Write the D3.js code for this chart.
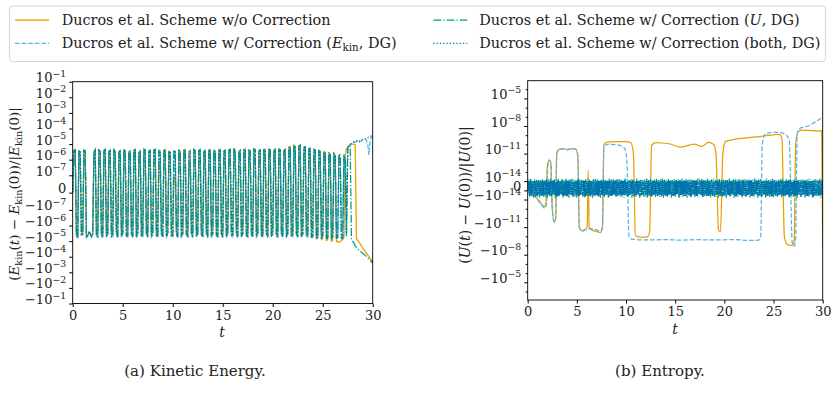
<!DOCTYPE html>
<html>
<head>
<meta charset="utf-8">
<script src="https://cdn.jsdelivr.net/npm/d3@7"></script>
<style>
  body { margin: 0; background: #fff; }
  svg { font-family: "DejaVu Serif", "Liberation Serif", serif; }
</style>
</head>
<body>
<script>
// ---------- data ----------
const tMax = 30;
const tTicks = [0, 5, 10, 15, 20, 25, 30];

// kinetic energy error, units of 1e-6, sampled every 0.125 in t
const kinUnit = 1e-6, kinStep = 0.125;
const kinOrange = [
  0,3.8,4.2,-4, -5,3.5,3,-4.5, -3,4,3.6,-5, -4,-3,-3.5,-5, -3.5,3.2,4.4,-4, -5,4.1,3.3,-3.5, -4,3.7,4.5,-5, -3,3.4,3.9,-4.5, -5,4.3,3.5,-3, -4,3.1,3.8,-5,
  -3.5,4.4,3.9,-4, -5,3.3,3.6,-3, -4,4,4.6,-5.5, -3,3.2,3.5,-4, -5,4.5,4,-3.5, -4,3.6,3.9,-5, -3,4.2,4.4,-4, -5,0.6,0.4,-3, -4,3.8,4.5,-5, -3.5,3.5,3.1,-4,
  -5,0.1,0.08,-3, -4,3.9,3.4,-5, -3,4.1,4.6,-4, -5,3.6,4,-3.5, -4,4.4,3.7,-5, -3,3.9,4.3,-4, -5,3.4,3.8,-3, -4,4.5,4.1,-5, -3.5,3.8,3.5,-4, -5,4.6,4.2,-3,
  -4,3.5,3.9,-5.5, -3,4.2,4.5,-4, -5,4.7,4.1,-3.5, -4,3.6,4,-5, -3,4.4,4.8,-4, -5,4,3.6,-3, -4,4.8,4.3,-5, -3.5,3.7,4.1,-4, -5,4.3,4.6,-3, -4,4.9,4.4,-5,
  -3,4,4.5,-4, -5,4.6,4.2,-3.5, -4,3.8,4.4,-5, -3,6,6.8,-4, -5,8,7.2,-3, -4,7.5,8.5,-5, -3.5,6,6.5,-4, -5,5,5.5,-6, -4,4.5,4.1,-7, -6,3.8,3.4,-8,
  -7,3.2,2.8,-9, -8,2.5,2.2,-10, -9,2,1.6,-11, -10,-12,-11,-9, -8,-6,2,5, 6,8,9,10, 10,10,9,-7, -9,-12,-15,-20, -28,-36,-46,-58, -75,-100,-130,-165,
  -220
];
const kinSky = [
  0,3.2,3.6,-5, -6,3,2.6,-4, -4,3.4,3.1,-6, -5,-2.5,-3,-5.5, -4,2.8,3.8,-4.5, -5.5,3.5,2.9,-4.5, -6,3.2,3.9,-5, -4,3,3.4,-5.5, -5,3.7,3,-4, -6,2.7,3.3,-5,
  -4,3.8,3.4,-5.5, -5.5,2.9,3.1,-4, -6,3.5,4,-6, -4,2.8,3,-5, -5,3.9,3.5,-4, -6,3.1,3.4,-5.5, -4,3.6,3.8,-5, -5.5,3.3,3,-4, -6,3.3,3.9,-5.5, -4,3,2.7,-5,
  -5,3.4,3.2,-4, -6,3.4,2.9,-5.5, -4,3.5,4,-5, -5.5,3.1,3.5,-4, -6,3.8,3.2,-5.5, -4,3.4,3.7,-5, -5,2.9,3.3,-4, -6,3.9,3.5,-5.5, -4,3.3,3,-5, -5.5,4,3.6,-4,
  -6,3,3.4,-6, -4,3.6,3.9,-5, -5,4.1,3.5,-4, -6,3.1,3.5,-5.5, -4,3.8,4.2,-5, -5.5,3.5,3.1,-4, -6,4.2,3.7,-5.5, -4,3.2,3.5,-5, -5,3.7,4,-4, -6,4.3,3.8,-5.5,
  -4,3.4,3.9,-5, -5.5,4,3.6,-4, -6,3.3,3.8,-5.5, -4,5.2,5.8,-5, -5,6.8,6.2,-4, -6,6.5,7.2,-5.5, -4,5.2,5.6,-5, -5.5,4.3,4.7,-6, -6,3.8,3.5,-7, -6.5,3.2,2.9,-7.5,
  -5,2.6,2.3,-7, -7,2,1.8,-6, -6,2.2,1.6,-7, -6.5,1.5,1.3,-5.5, -7,1.2,1,-4, 5,8,10,11, 12,14,13,14, 15,13,15,16, 17,19,21,18, 10,2,20,28,
  32
];
const kinGreen = [
  0,4,4.4,-4.5, -5.5,3.7,3.3,-3.5, -3.5,4.2,3.8,-5, -4.5,-2.8,-3.2,-5, -3,3.4,4.5,-4, -4.5,4.3,3.5,-4, -5,3.9,4.6,-4.5, -3.5,3.6,4.1,-4, -4.5,4.5,3.7,-3.5, -5,3.3,4,-4.5,
  -3,4.6,4.1,-4.5, -4.5,3.5,3.8,-3.5, -5,4.2,4.8,-5, -3.5,3.4,3.7,-4.5, -4.5,4.7,4.2,-3, -5,3.8,4.1,-4.5, -3.5,4.4,4.6,-4.5, -4.5,3.9,3.6,-3.5, -5,4,4.7,-4.5, -3,3.7,3.3,-4.5,
  -4.5,4.1,3.9,-3.5, -5,4.1,3.6,-4.5, -3.5,4.3,4.8,-4, -4.5,0.7,0.7,-3, -5,4.6,3.9,-4.5, -3.5,4.1,4.5,-4.5, -4.5,3.6,4,-3.5, -5,4.7,4.3,-4.5, -3,4,3.7,-4.5, -4.5,4.8,4.4,-3.5,
  -5,3.7,4.1,-5, -3.5,4.4,4.7,-4.5, -4.5,4.9,4.3,-3, -5,3.8,4.2,-4.5, -3.5,4.6,5,-4.5, -4.5,4.2,3.8,-3.5, -5,5,4.5,-4.5, -3,3.9,4.3,-4.5, -4.5,4.5,4.8,-3.5, -5,5.1,4.6,-4.5,
  -3.5,4.2,4.7,-4.5, -4.5,4.8,4.4,-3, -5,4,4.6,-4.5, -3.5,6.3,7,-4.5, -4.5,8.3,7.5,-3.5, -5,7.8,8.8,-4.5, -3.5,6.3,6.8,-4.5, -4.5,5.2,5.7,-5.5, -5,4.7,4.3,-6, -5.5,4,3.6,-6.5,
  -4.5,3.4,3,-6.5, -6,2.8,2.5,-7, -5.5,2.6,2.2,-6.5, -6,2.3,2,-7, -6.5,2,1.8,-5, 6,9,8,-7, -10,-14,-20,-25, -30,-37,-45,-52, -60,-70,-82,-95, -115,-140,-170,-210,
  -260
];
const kinBlue = [
  0,3.5,3.9,-4, -5,3.2,2.9,-4.5, -3.5,3.7,3.3,-5.5, -4.5,-3,-3.4,-5, -3.5,3,4.1,-4, -5,3.8,3.1,-4, -5.5,3.5,4.2,-4.5, -3.5,3.3,3.7,-5, -4.5,4,3.3,-3.5, -5.5,2.9,3.5,-4.5,
  -3.5,4.1,3.6,-5, -5,3.1,3.4,-3.5, -5.5,3.8,4.3,-5.5, -3.5,3,3.3,-4.5, -4.5,4.2,3.8,-3.5, -5.5,3.4,3.7,-5, -3.5,3.9,4.1,-4.5, -5,3.5,3.2,-3.5, -5.5,3.6,4.3,-5, -3.5,3.3,3,-4.5,
  -4.5,3.7,3.5,-3.5, -5.5,3.7,3.2,-5, -3.5,3.8,4.3,-4.5, -5,3.4,3.8,-3.5, -5.5,4.1,3.5,-5, -3.5,3.7,4,-4.5, -4.5,3.2,3.6,-3.5, -5.5,4.2,3.8,-5, -3.5,3.6,3.3,-4.5, -5,4.3,3.9,-3.5,
  -5.5,3.3,3.7,-5.5, -3.5,3.9,4.2,-4.5, -4.5,4.4,3.8,-3.5, -5.5,3.4,3.8,-5, -3.5,4.1,4.5,-4.5, -5,3.8,3.4,-3.5, -5.5,4.5,4,-5, -3.5,3.5,3.8,-4.5, -4.5,4,4.3,-3.5, -5.5,4.6,4.1,-5,
  -3.5,3.7,4.2,-4.5, -5,4.3,3.9,-3.5, -5.5,3.6,4.1,-5, -3.5,5.6,6.3,-4.5, -4.5,7.4,6.7,-3.5, -5.5,7,7.9,-5, -3.5,5.6,6.1,-4.5, -5,4.7,5.1,-5.5, -5.5,4.2,3.8,-6.5, -6,3.5,3.2,-7,
  -4.5,2.9,2.6,-7, -6.5,2.4,2.1,-5.5, -5.5,2.5,1.9,-6.5, -6,1.8,1.6,-5, -6.5,1.5,1.3,-3.5, 4,7,9,11, 12,14,15,16, 18,15,17,19, 20,22,21,24, 26,28,30,34,
  38
];
const kinTicks = [1e-1, 1e-2, 1e-3, 1e-4, 1e-5, 1e-6, 1e-7, 0, -1e-7, -1e-6, -1e-5, -1e-4, -1e-3, -1e-2, -1e-1];

// entropy error: smooth runs (t, value)
const entOrangeT = [0, 0.6, 1.2, 1.5, 1.7, 1.85, 2.0, 2.2, 2.35, 2.5, 2.7, 2.85, 2.95, 3.2, 3.6, 4.0, 4.5, 4.9, 5.1, 5.25,
  5.5, 5.8, 6.05, 6.15, 6.25, 6.5, 7.0, 7.4, 7.6, 7.75, 8.1, 9.0, 10.0, 10.5, 10.75, 10.95, 11.5, 12.2, 12.4, 12.6,
  13.0, 14.5, 15.5, 16.5, 16.9, 17.7, 18.4, 18.9, 19.15, 19.4, 19.6, 19.85, 20.1, 21.0, 23.0, 25.0, 25.6, 25.85, 26.1, 26.4,
  26.9, 27.1, 27.25, 27.5, 28.0, 28.5, 29.5, 29.9, 30.0];
const entOrangeV = [0, -5e-15, -1.5e-14, -4e-14, -6e-14, -2e-14, 5e-13, 1.9e-12, 1e-12, -1e-13, -2.8e-12, -1e-12, 1e-11, 3e-11, 3.5e-11, 2.8e-11, 3.5e-11, 3e-11, 5e-12, -1e-11,
  -2.5e-11, -2e-11, -1e-11, 1.5e-13, -1e-11, -2e-11, -3e-11, -4e-11, -1e-11, 1e-10, 1.8e-10, 2e-10, 2e-10, 1.5e-10, 1e-11, -8e-11, -1.3e-10, -1.1e-10, -3e-11, 8e-11,
  1.6e-10, 1.1e-10, 5e-11, 9e-11, 1.1e-10, 6e-11, 1.7e-10, 1e-10, 1e-11, -2e-11, -3e-11, 1e-11, 2e-10, 3.5e-10, 6e-10, 1.1e-9, 1.2e-9, 5e-10, -1e-10, -8e-10,
  -1e-9, -3e-10, 1e-10, 2.5e-9, 3.5e-9, 3.3e-9, 2.8e-9, 3.2e-9, -1.5e-9];
const entSkyT = [0, 0.6, 1.2, 1.5, 1.75, 1.9, 2.05, 2.2, 2.35, 2.5, 2.7, 2.85, 2.95, 3.2, 3.6, 4.0, 4.5, 4.9, 5.1, 5.25,
  5.5, 6.0, 6.5, 7.0, 7.4, 7.6, 7.75, 8.1, 9.0, 9.6, 9.9, 10.1, 10.3, 10.6, 12.0, 14.0, 15.5, 17.0, 19.0, 21.0,
  22.5, 23.5, 23.7, 23.85, 24.2, 25.0, 25.6, 26.2, 26.6, 26.9, 27.1, 27.25, 27.4, 27.6, 28.5, 29.3, 30.0];
const entSkyV = [0, -5e-15, -2e-14, -5e-14, -9e-14, -3e-14, 5e-13, 1.9e-12, 1e-12, -1e-13, -3e-12, -1e-12, 1e-11, 2.8e-11, 3.2e-11, 2.5e-11, 3.2e-11, 2.8e-11, 5e-12, -1e-11,
  -2.5e-11, -1.8e-11, -1.5e-11, -2e-11, -3e-11, -1e-11, 5e-11, 1e-10, 9e-11, 6e-11, 3e-11, 1e-12, -1e-10, -2e-10, -2.5e-10, -2.3e-10, -2.6e-10, -2.3e-10, -2.5e-10, -2.3e-10,
  -2.8e-10, -2.6e-10, -1e-10, 1e-10, 1.5e-9, 2e-9, 2e-9, 1.2e-9, 3e-10, -5e-10, -1.2e-9, -2e-10, 1e-9, 5e-9, 1e-8, 3e-8, 1e-7];

// entropy error: noisy runs, units of 1e-15, sampled every 0.1 in t
const entUnit = 1e-15, entStep = 0.1;
const entGreen = [
  0, 15, -7, 18, -6, 12, -8, 19, -5, 14, -7, 16, -8, 13, -6, 18, -7, 12, -5, 17,
  -8, 15, -6, 19, -7, 13, -5, 16, -8, 14, -6, 18, -7, 12, -5, 17, -8, 15, -6, 19,
  -7, 13, -8, 16, -5, 18, -6, 14, -7, 12, -8, 19, -5, 15, -6, 17, -7, 13, -8, 16,
  -6, 18, -5, 14, -7, 12, -8, 17, -6, 19, -5, 15, -7, 13, -8, 16, -6, 18, -7, 14,
  -5, 12, -8, 19, -6, 15, -7, 17, -5, 13, -8, 16, -6, 18, -7, 14, -5, 12, -8, 19,
  -6, 16, -7, 13, -5, 18, -8, 15, -6, 12, -7, 19, -5, 14, -8, 17, -6, 13, -7, 16,
  -5, 19, -8, 14, -6, 17, -7, 12, -5, 15, -8, 18, -6, 13, -7, 16, -5, 19, -8, 14,
  -6, 12, -7, 17, -5, 15, -8, 13, -6, 18, -7, 14, -5, 16, -8, 12, -6, 19, -7, 15,
  -5, 17, -8, 13, -6, 16, -7, 18, -5, 14, -8, 12, -6, 19, -7, 15, -5, 17, -8, 13,
  -6, 14, -7, 18, -5, 12, -8, 16, -6, 19, -7, 13, -5, 15, -8, 17, -6, 14, -7, 18,
  -5, 13, -8, 15, -6, 19, -7, 12, -5, 16, -8, 18, -6, 14, -7, 17, -5, 13, -8, 15,
  -6, 18, -7, 14, -5, 17, -8, 12, -6, 15, -7, 19, -5, 13, -8, 16, -6, 18, -7, 12,
  -5, 16, -8, 19, -6, 13, -7, 15, -5, 18, -8, 14, -6, 12, -7, 17, -5, 16, -8, 19,
  -6, 12, -7, 16, -5, 14, -8, 18, -6, 13, -7, 15, -5, 19, -8, 12, -6, 17, -7, 14,
  -5, 18, -8, 13, -6, 16, -7, 19, -5, 12, -8, 15, -6, 17, -7, 14, -5, 18, -8, 13,
  -6
];
const entBlue = [
  0, 10, -5, 12, -6, 9, -4, 11, -6.5, 10, -5, 12, -4, 9, -6, 11, -5, 10, -6.5, 12,
  -4, 9, -5, 11, -6, 10, -4, 12, -5, 9, -6.5, 11, -5, 10, -4, 12, -6, 9, -5, 11,
  -6, 10, -4, 12, -5, 9, -6.5, 11, -4, 10, -5, 12, -6, 9, -4, 11, -5, 10, -6.5, 12,
  -4, 9, -6, 11, -5, 10, -4, 12, -6, 9, -5, 11, -6.5, 10, -4, 12, -5, 9, -6, 11,
  -4, 10, -5, 12, -6.5, 9, -5, 11, -4, 10, -6, 12, -5, 9, -4, 11, -6.5, 10, -5, 12,
  -4, 9, -6, 11, -5, 10, -4, 12, -6.5, 9, -5, 11, -4, 10, -6, 12, -5, 9, -4, 11,
  -6.5, 10, -5, 12, -4, 9, -6, 11, -5, 10, -4, 12, -6, 9, -5, 11, -6.5, 10, -4, 12,
  -5, 9, -6, 11, -4, 10, -5, 12, -6, 9, -5, 11, -4, 10, -6.5, 12, -5, 9, -4, 11,
  -6, 10, -4, 12, -5, 9, -6.5, 11, -4, 10, -5, 12, -6, 9, -4, 11, -5, 10, -6.5, 12,
  -4, 9, -5, 11, -6, 10, -4, 12, -5, 9, -6.5, 11, -5, 10, -4, 12, -6, 9, -5, 11,
  -6, 10, -4, 12, -5, 9, -6, 11, -4, 10, -5, 12, -6.5, 9, -4, 11, -5, 10, -6, 12,
  -4, 9, -6.5, 11, -5, 10, -4, 12, -6, 9, -5, 11, -4, 10, -6, 12, -5, 9, -6.5, 11,
  -4, 10, -5, 12, -6, 9, -4, 11, -6.5, 10, -5, 12, -4, 9, -6, 11, -5, 10, -4, 12,
  -6, 9, -5, 11, -4, 10, -6.5, 12, -5, 9, -4, 11, -6, 10, -5, 12, -4, 9, -6.5, 11,
  -5, 10, -4, 12, -6, 9, -5, 11, -4, 10, -6.5, 12, -5, 9, -4, 11, -6, 10, -5, 12,
  -4
];
const entMajor = [1e-5, 1e-8, 1e-11, 1e-14, 0, -1e-14, -1e-11, -1e-8, -1e-5];
const entMinor = [1e-4, 1e-6, 1e-7, 1e-9, 1e-10, 1e-12, 1e-13, -1e-13, -1e-12, -1e-10, -1e-9, -1e-7, -1e-6, -1e-4];
const entLim = 8.5e-4;

const legendLabels = [
  [{ s: "Ducros et al. Scheme w/o Correction" }],
  [{ s: "Ducros et al. Scheme w/ Correction (" }, { s: "E", i: true }, { s: "kin", sub: true }, { s: ", DG)" }],
  [{ s: "Ducros et al. Scheme w/ Correction (" }, { s: "U", i: true }, { s: ", DG)" }],
  [{ s: "Ducros et al. Scheme w/ Correction (both, DG)" }]
];

// ---------- styles ----------
const styles = [
  { color: "#E69F00", dash: null },
  { color: "#56B4E9", dash: "4.6,2" },
  { color: "#009E73", dash: "8,2,1.25,2" },
  { color: "#0072B2", dash: "1.25,2.05" }
];

// matplotlib-style symlog transform (base 10)
function symlogT(linthresh, linscale) {
  const adj = linscale / (1 - 1 / 10);
  return v => {
    const a = Math.abs(v);
    if (a <= linthresh) return v / linthresh * adj;
    return Math.sign(v) * (adj + Math.log10(a / linthresh));
  };
}

// text with italic / sub / superscript pieces
function rich(text, parts, fs) {
  let shift = 0;
  parts.forEach(p => {
    let target = 0, size = fs;
    if (p.sup) { target = -0.42 * fs; size = fs * 0.72; }
    if (p.sub) { target = 0.22 * fs; size = fs * 0.72; }
    const ts = text.append("tspan").text(p.s)
      .attr("dy", target - shift)
      .attr("font-size", size);
    if (p.i) ts.attr("font-style", "italic");
    shift = target;
  });
}

function powParts(v) {
  if (v === 0) return [{ s: "0" }];
  const e = Math.round(Math.log10(Math.abs(v)));
  return [{ s: (v < 0 ? "\u221210" : "10") }, { s: "\u2212" + (-e), sup: true }];
}

const W = 836, H = 406;
const FONT = "DejaVu Serif";
const svg = d3.select("body").append("svg").attr("width", W).attr("height", H);

function panel(box, T, yDomain, majors, minors, runs, id) {
  const x = d3.scaleLinear().domain([0, tMax]).range([box.x0, box.x1]);
  const y = d3.scaleLinear().domain(yDomain.map(T)).range([box.y1, box.y0]);
  const g = svg.append("g");

  g.append("clipPath").attr("id", id)
    .append("rect").attr("x", box.x0).attr("y", box.y0)
    .attr("width", box.x1 - box.x0).attr("height", box.y1 - box.y0);

  const plot = g.append("g").attr("clip-path", `url(#${id})`);
  runs.forEach(r => {
    const line = d3.line().x(d => x(d[0])).y(d => y(T(d[1])))
      .curve(r.curve || d3.curveLinear);
    plot.append("path")
      .attr("d", line(r.pts))
      .attr("fill", "none")
      .attr("stroke", styles[r.s].color)
      .attr("stroke-width", r.w || 1.25)
      .attr("stroke-dasharray", r.dash || styles[r.s].dash);
  });

  // frame
  g.append("rect").attr("x", box.x0).attr("y", box.y0)
    .attr("width", box.x1 - box.x0).attr("height", box.y1 - box.y0)
    .attr("fill", "none").attr("stroke", "#000").attr("stroke-width", 0.9);

  // x axis
  const xa = g.append("g").attr("transform", `translate(0,${box.y1})`)
    .call(d3.axisBottom(x).tickValues(tTicks).tickSize(3.5).tickPadding(3.5));
  xa.select(".domain").remove();
  xa.selectAll("text").attr("font-family", FONT).attr("font-size", 13).attr("fill", "#222");

  // y axis
  if (minors.length) {
    const ym = g.append("g").attr("transform", `translate(${box.x0},0)`)
      .call(d3.axisLeft(y).tickValues(minors.map(T)).tickSize(2).tickFormat(""));
    ym.select(".domain").remove();
  }
  const ya = g.append("g").attr("transform", `translate(${box.x0},0)`)
    .call(d3.axisLeft(y).tickValues(majors.map(T)).tickSize(3.5).tickPadding(3));
  ya.select(".domain").remove();
  ya.selectAll("text").text(null).attr("font-family", FONT).attr("fill", "#222")
    .attr("font-size", 13)
    .each(function (d, i) { rich(d3.select(this), powParts(majors[i]), 13); });
  return { x, y, g };
}

// ---------- left: kinetic energy ----------
const kinT = symlogT(1e-7, 1);
const kinRun = (arr, s) => ({ s, pts: arr.map((v, i) => [i * kinStep, v * kinUnit]) });
panel({ x0: 72.7, x1: 372.7, y0: 81.7, y1: 303.5 }, kinT, [-1e-1, 1e-1],
  kinTicks, [], [kinRun(kinOrange, 0), kinRun(kinSky, 1), kinRun(kinGreen, 2), kinRun(kinBlue, 3)], "clipKin");

// ---------- right: entropy ----------
// the noisy runs are very dense in the original, so their dots merge into a band
const entT = symlogT(1e-14, 0.9);
const entRun = (arr, s, w, dash) => ({ s, w, dash, pts: arr.map((v, i) => [i * entStep, v * entUnit]) });
panel({ x0: 527.7, x1: 822.7, y0: 80.7, y1: 300 }, entT, [-entLim, entLim],
  entMajor, entMinor, [
    { s: 0, pts: entOrangeT.map((t, i) => [t, entOrangeV[i]]), curve: d3.curveMonotoneX },
    { s: 1, pts: entSkyT.map((t, i) => [t, entSkyV[i]]), curve: d3.curveMonotoneX },
    entRun(entGreen, 2, 1.2), entRun(entBlue, 3, 2.2, "1.3,0.9")
  ], "clipEnt");

// axis labels
const lab = (x, y, parts, rot, fs) => {
  const t = svg.append("text").attr("text-anchor", "middle").attr("fill", "#222")
    .attr("transform", `translate(${x},${y})` + (rot ? " rotate(-90)" : ""));
  rich(t, parts, fs);
  return t;
};
lab(222, 337, [{ s: "t", i: true }], false, 14);
lab(675, 334, [{ s: "t", i: true }], false, 14);
lab(19, 194, [{ s: "(" }, { s: "E", i: true }, { s: "kin", sub: true }, { s: "(" }, { s: "t", i: true },
  { s: ") \u2212 " }, { s: "E", i: true }, { s: "kin", sub: true }, { s: "(0))/|" }, { s: "E", i: true },
  { s: "kin", sub: true }, { s: "(0)|" }], true, 13.5);
lab(470, 195, [{ s: "(" }, { s: "U", i: true }, { s: "(" }, { s: "t", i: true }, { s: ") \u2212 " },
  { s: "U", i: true }, { s: "(0))/|" }, { s: "U", i: true }, { s: "(0)|" }], true, 14);

// captions
svg.append("text").attr("x", 195).attr("y", 376).attr("text-anchor", "middle")
  .attr("font-size", 15).attr("fill", "#222").text("(a) Kinetic Energy.");
svg.append("text").attr("x", 660).attr("y", 376).attr("text-anchor", "middle")
  .attr("font-size", 15).attr("fill", "#222").text("(b) Entropy.");

// ---------- legend ----------
const lg = svg.append("g");
lg.append("rect").attr("x", 9.5).attr("y", 6).attr("width", 816).attr("height", 55.5)
  .attr("rx", 3).attr("fill", "#fff").attr("stroke", "#d6d6d6").attr("stroke-width", 1);
const slots = [
  { lx: 15, tx: 61.7, y: 20 },
  { lx: 15, tx: 61.7, y: 43.3 },
  { lx: 433.3, tx: 479.3, y: 20 },
  { lx: 433.3, tx: 479.3, y: 43.3 }
];
slots.forEach((p, i) => {
  lg.append("line").attr("x1", p.lx).attr("x2", p.lx + 34).attr("y1", p.y).attr("y2", p.y)
    .attr("stroke", styles[i].color).attr("stroke-width", 1.25)
    .attr("stroke-dasharray", styles[i].dash);
  const t = lg.append("text").attr("x", p.tx).attr("y", p.y + 5).attr("fill", "#222");
  rich(t, legendLabels[i], 14.4);
});
</script>
</body>
</html>
